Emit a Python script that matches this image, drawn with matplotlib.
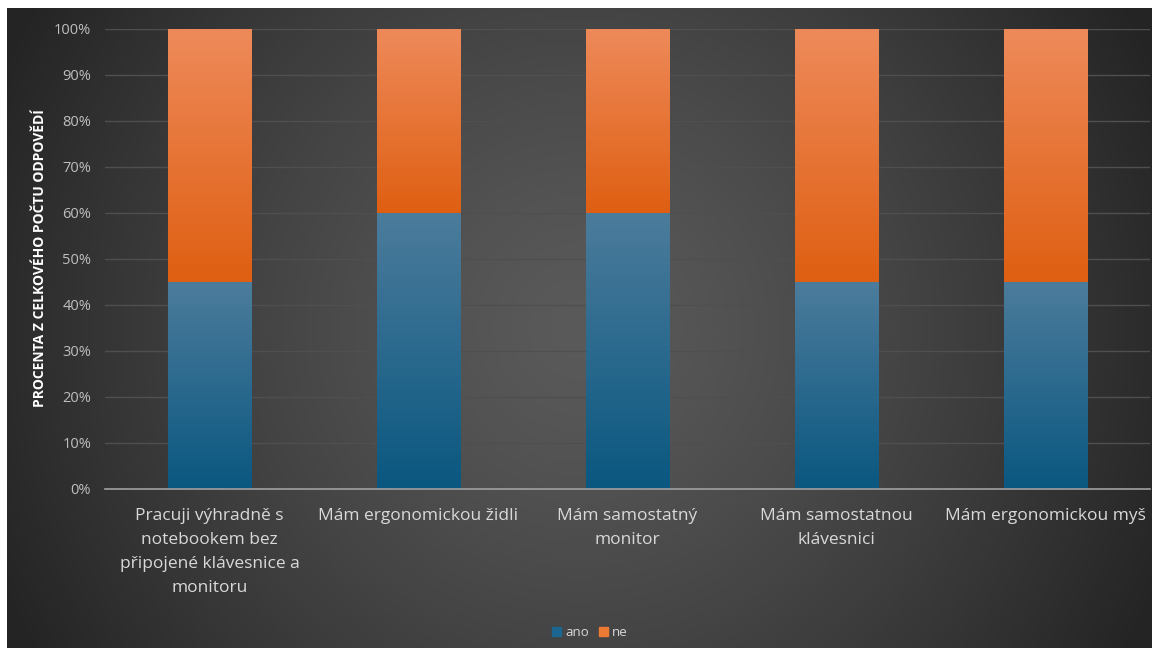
import numpy as np
import matplotlib
matplotlib.use("Agg")
import matplotlib.pyplot as plt
from matplotlib.colors import LinearSegmentedColormap

categories = [
    "Pracuji výhradně s\nnotebookem bez\npřipojené klávesnice a\nmonitoru",
    "Mám ergonomickou židli",
    "Mám samostatný\nmonitor",
    "Mám samostatnou\nklávesnici",
    "Mám ergonomickou myš",
]
ano = [45, 60, 60, 45, 45]
ne = [55, 40, 40, 55, 55]
yticks = [0, 10, 20, 30, 40, 50, 60, 70, 80, 90, 100]

plt.rcParams["font.family"] = ["Open Sans", "DejaVu Sans"]

fig = plt.figure(figsize=(11.6, 6.54), dpi=100, facecolor="white")

# radial dark background
bg = fig.add_axes([7 / 1160, 6 / 654, 1145 / 1160, 640 / 654])
bg.set_axis_off()
W, H = 1145, 640
yy, xx = np.mgrid[0:H, 0:W]
r = np.hypot(xx - W * 0.5, yy - H * 0.5)
v = np.clip(0x5a - (0x5a - 0x26) * (r / 620) ** 1.3, 0x24, 0x5a) / 255
bg.imshow(np.dstack([v, v, v]), aspect="auto", extent=[0, 1, 0, 1])
bg.set_xlim(0, 1); bg.set_ylim(0, 1)

ax = fig.add_axes([105 / 1160, (654 - 489) / 654, 1045 / 1160, 460 / 654])
ax.set_facecolor("none")
x = np.arange(len(categories))
w = 0.40

blue_cm = LinearSegmentedColormap.from_list("b", ["#0a5780", "#4c7c9c"])
orange_cm = LinearSegmentedColormap.from_list("o", ["#df5f12", "#ee8a5a"])

b1 = ax.bar(x, ano, w, color="none", zorder=3)
b2 = ax.bar(x, ne, w, bottom=ano, color="none", zorder=3)
grad = np.linspace(0, 1, 256).reshape(-1, 1)
for bars, cm in ((b1, blue_cm), (b2, orange_cm)):
    for p in bars:
        x0, y0 = p.get_x(), p.get_y()
        ax.imshow(grad, cmap=cm, origin="lower", aspect="auto", zorder=3,
                  extent=[x0, x0 + p.get_width(), y0, y0 + p.get_height()])

ax.set_xlim(-0.5, len(categories) - 0.5)
ax.set_ylim(0, 100)
ax.set_yticks(yticks)
ax.set_yticklabels([f"{t}%" for t in yticks], color="#bfbfbf", fontsize=10.5)
ax.set_xticks(x)
ax.set_xticklabels(categories, color="#d9d9d9", fontsize=12.5, linespacing=1.65)
ax.tick_params(axis="both", length=0)
ax.tick_params(axis="y", pad=10)
ax.tick_params(axis="x", pad=14)
ax.grid(axis="y", color="#4f4f4f", lw=1, zorder=0)
for s in ("top", "right", "left"):
    ax.spines[s].set_visible(False)
ax.spines["bottom"].set_color("#a0a0a0")
ax.spines["bottom"].set_linewidth(1.2)
ax.spines["bottom"].set_zorder(4)

fig.text(40 / 1160, 1 - 258 / 654, "PROCENTA Z CELKOVÉHO POČTU ODPOVĚDÍ",
         rotation=90, ha="center", va="center", color="white",
         fontsize=10, fontweight="bold")

h1 = plt.Rectangle((0, 0), 1, 1, color="#1a6690")
h2 = plt.Rectangle((0, 0), 1, 1, color="#ec7a34")
fig.legend([h1, h2], ["ano", "ne"], loc="center", bbox_to_anchor=(590 / 1160, 1 - 633 / 654),
           ncol=2, frameon=False, fontsize=9.5, labelcolor="#d9d9d9",
           handlelength=0.65, handleheight=0.65, handletextpad=0.3, columnspacing=0.8)

fig.savefig("out.png", dpi=100, facecolor="white")
